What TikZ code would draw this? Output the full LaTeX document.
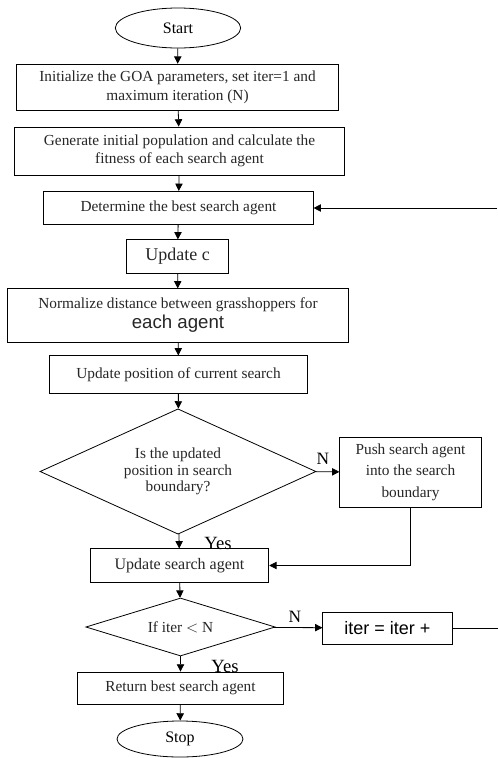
\documentclass[tikz,border=0pt]{standalone}
\usepackage{fontspec}
\setmainfont{Liberation Serif}
\newfontfamily\arialfont{Liberation Sans}
\usetikzlibrary{arrows.meta,shapes.geometric}

\tikzset{
  process/.style={draw, rectangle, line width=0.6pt, inner sep=0pt, align=center, font=\fontsize{11.5}{14}\selectfont, text=black!85},
  decision/.style={draw, diamond, line width=0.6pt, inner sep=0pt, align=center, font=\fontsize{11.5}{12.5}\selectfont, text=black!85},
  terminal/.style={draw, ellipse, line width=0.6pt, inner sep=0pt, font=\fontsize{12}{12}\selectfont},
  arrow/.style={line width=0.6pt, -{Triangle[length=5.5pt,width=5.5pt]}},
  answer/.style={inner sep=0pt, font=\fontsize{14}{14}\selectfont}
}

\begin{document}
\begin{tikzpicture}[x=0.75pt, y=-0.75pt] %% pixel grid of the flowchart

\useasboundingbox (0,0) rectangle (498,758);

% main column
\node[terminal, minimum width=94pt, minimum height=30pt] (start) at (178,28) {Start};
\node[process, minimum width=242pt, minimum height=35pt] (init) at (177.5,87.5) {Initialize the GOA parameters, set iter=1 and\\ maximum iteration (N)};
\node[process, minimum width=247pt, minimum height=36pt, font=\fontsize{11.5}{13.5}\selectfont] (popu) at (179.5,151) {Generate initial population and calculate the\\ fitness of each search agent};
\node[process, minimum width=202pt, minimum height=25pt] (best) at (178.5,208) {Determine the best search agent};
\node[process, minimum width=77pt, minimum height=25pt, font=\fontsize{13.5}{14}\selectfont] (updc) at (177.5,256.5) {Update c};
\node[process, minimum width=256pt, minimum height=40pt, font=\fontsize{11.5}{15}\selectfont] (norm) at (178,315.5) {Normalize distance between grasshoppers for\\ {\arialfont\fontsize{14}{15}\selectfont each agent}};
\node[process, minimum width=193pt, minimum height=28pt] (updpos) at (178.5,374.5) {Update position of current search};
\node[decision, minimum width=207pt, minimum height=94pt, aspect=2.2] (inbound) at (178,471.5) {Is the updated\\ position in search\\ boundary?};
\node[process, minimum width=134pt, minimum height=25pt, font=\fontsize{12}{14}\selectfont] (updagent) at (179.5,565.5) {Update search agent};
\node[decision, minimum width=142pt, minimum height=43.5pt, aspect=3.3] (check) at (180.5,627) {If iter $<$ N};
\node[process, minimum width=155pt, minimum height=24pt] (ret) at (180.5,688) {Return best search agent};
\node[terminal, minimum width=94.5pt, minimum height=27pt] (stop) at (180,739) {Stop};

% side boxes
\node[process, minimum width=106pt, minimum height=52.5pt, font=\fontsize{11.5}{16}\selectfont] (push) at (410.5,472) {Push search agent\\ into the search\\ boundary};
\node[process, minimum width=97pt, minimum height=24pt, font=\arialfont\fontsize{13.5}{14}\selectfont, text=black] (iter) at (387.5,628) {iter = iter +};

% labels
\node[answer, font=\fontsize{13}{13}\selectfont] (n1) at (323,459) {N};
\node[answer, font=\fontsize{13}{13}\selectfont] (n2) at (295,617) {N};
\node[answer] (yes1) at (218,543) {Yes};
\node[answer] (yes2) at (225,666) {Yes};

\coordinate (edgeT) at (497,208);
\coordinate (edgeR) at (498,628);

% connectors
\draw[arrow] (start) -- (init);
\draw[arrow] (init) -- (popu);
\draw[arrow] (popu) -- (best);
\draw[arrow] (best) -- (updc);
\draw[arrow] (updc) -- (norm);
\draw[arrow] (norm) -- (updpos);
\draw[arrow] (updpos) -- (inbound);
\draw[arrow] (inbound) -- (updagent);
\draw[arrow] (inbound) -- (push);
\draw[arrow] (push.south) |- (updagent.east);
\draw[arrow] (updagent) -- (check);
\draw[arrow] (check) -- (ret);
\draw[arrow] (check) -- (iter);
\draw[arrow] (ret) -- (stop);
\draw[line width=0.6pt] (iter) -- (edgeR); %loop back
\draw[arrow] (edgeT) -- (best);

\end{tikzpicture}
\end{document}
